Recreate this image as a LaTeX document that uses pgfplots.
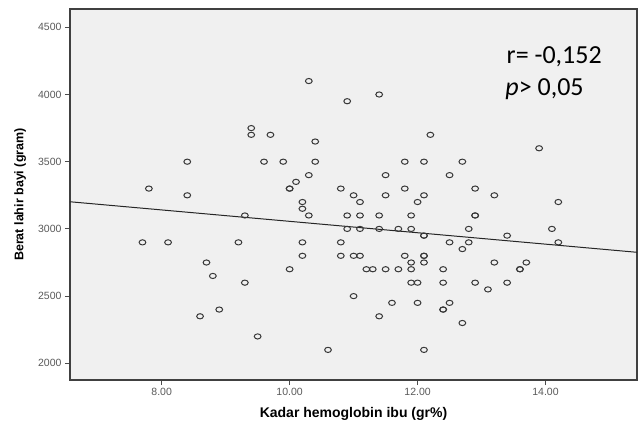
\documentclass[border=0pt]{standalone}
\usepackage{fontspec}
\setmainfont{Liberation Sans}
\newfontfamily\calibri{Carlito}
\usepackage{pgfplots}
\pgfplotsset{compat=1.18}
\definecolor{panel}{HTML}{F0F0F0}
\definecolor{dotc}{HTML}{383838}
\begin{document}
\begin{tikzpicture}
\path[use as bounding box] (-70pt,-41pt) rectangle (571pt,380pt);
\begin{axis}[
    at={(0pt,0pt)}, anchor=south west,
    scale only axis, width=567pt, height=371pt,
    xmin=6.567, xmax=15.43, ymin=1876, ymax=4636,
    axis background/.style={fill=panel},
    axis line style={black!75, line width=1.2pt},
    xtick={8,10,12,14}, ytick={2000,2500,...,4500},
    xtick pos=bottom, ytick pos=left,
    tick align=outside, major tick length=5pt,
    tick style={black!70, line width=0.9pt},
    /pgf/number format/assume math mode=true,
    /pgf/number format/1000 sep={},
    xticklabel style={/pgf/number format/.cd, fixed, fixed zerofill, precision=2},
    tick label style={font=\fontsize{10.5}{12}\selectfont, text=black!65},
    xlabel={Kadar hemoglobin ibu (gr\%)},
    ylabel={Berat lahir bayi (gram)},
    xlabel style={font=\bfseries\fontsize{14}{16}\selectfont, at={(rel axis cs:0.5,0)}, anchor=base, yshift=-37pt},
    ylabel style={font=\bfseries\fontsize{12.5}{14}\selectfont, at={(rel axis cs:-0.088,0.5)}, anchor=center},
]
\addplot[only marks, mark=o, mark size=2.6pt, dotc,
    mark options={line width=1pt, xscale=1.3}] coordinates {
(7.7,2900) (7.8,3300) (8.1,2900) (8.4,3500) (8.4,3250) (8.6,2350)
(8.7,2750) (8.8,2650) (8.9,2400) (9.2,2900) (9.3,3100) (9.3,2600)
(9.4,3750) (9.4,3700) (9.5,2200) (9.6,3500) (9.7,3700) (9.9,3500)
(10.0,3300) (10.0,3300) (10.0,2700) (10.1,3350) (10.2,3200) (10.2,3150)
(10.2,2900) (10.2,2800) (10.3,4100) (10.3,3400) (10.3,3100) (10.4,3650)
(10.4,3500) (10.6,2100) (10.8,3300) (10.8,2900) (10.8,2800) (10.9,3950)
(10.9,3100) (10.9,3000) (11.0,3250) (11.0,2800) (11.0,2500) (11.1,3200)
(11.1,3100) (11.1,3000) (11.1,2800) (11.2,2700) (11.3,2700) (11.4,4000)
(11.4,3100) (11.4,3000) (11.4,2350) (11.5,3400) (11.5,3250) (11.5,2700)
(11.6,2450) (11.7,3000) (11.7,2700) (11.8,3500) (11.8,3300) (11.8,2800)
(11.9,3100) (11.9,3000) (11.9,2750) (11.9,2700) (11.9,2600) (12.0,3200)
(12.0,2600) (12.0,2450) (12.1,3500) (12.1,3250) (12.1,2950) (12.1,2950)
(12.1,2800) (12.1,2800) (12.1,2750) (12.1,2100) (12.2,3700) (12.4,2700)
(12.4,2600) (12.4,2400) (12.4,2400) (12.5,3400) (12.5,2900) (12.5,2450)
(12.7,3500) (12.7,2850) (12.7,2300) (12.8,3000) (12.8,2900) (12.9,3300)
(12.9,3100) (12.9,3100) (12.9,2600) (13.1,2550) (13.2,3250) (13.2,2750)
(13.4,2950) (13.4,2600) (13.6,2700) (13.6,2700) (13.7,2750) (13.9,3600)
(14.1,3000) (14.2,3200) (14.2,2900)
};
% fit line
\addplot[black!85, line width=1pt] coordinates {(6.567,3202) (15.43,2826)};
\node[anchor=base west, font=\calibri\fontsize{26}{30}\selectfont, inner sep=0pt]
    at (axis cs:13.39,4234) {r= -0,152};
\node[anchor=base west, font=\calibri\fontsize{26}{30}\selectfont, inner sep=0pt]
    at (axis cs:13.37,3996) {\textit{p}> 0,05};
\end{axis}
\end{tikzpicture}
\end{document}
